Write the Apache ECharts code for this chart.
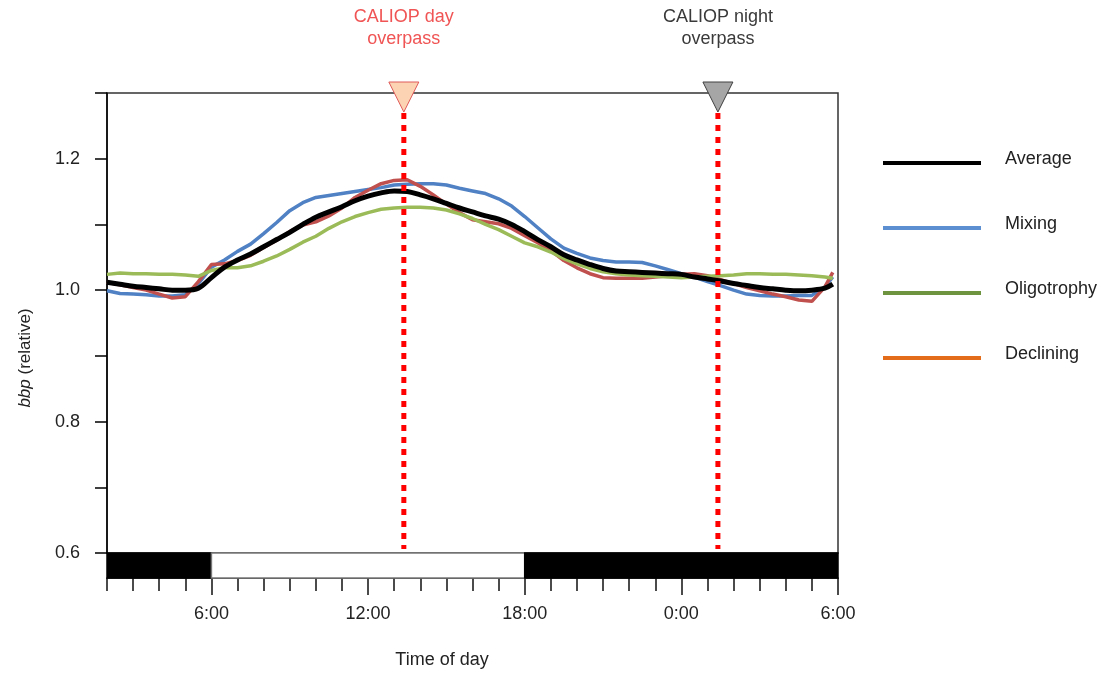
<!DOCTYPE html>
<html><head><meta charset="utf-8">
<script src="https://cdn.jsdelivr.net/npm/echarts@6/dist/echarts.min.js"></script>
<style>html,body{margin:0;padding:0;background:#fff}#c{width:1110px;height:676px}</style>
</head><body><div id="c"></div>
<script>
// ---- data ----
const hours = [2,2.5,3,3.5,4,4.5,5,5.5,6,6.5,7,7.5,8,8.5,9,9.5,10,10.5,11,11.5,12,12.5,13,13.5,14,14.5,15,15.5,16,16.5,17,17.5,18,18.5,19,19.5,20,20.5,21,21.5,22,22.5,23,23.5,24,24.5,25,25.5,26,26.5,27,27.5,28,28.5,29,29.5,29.8];
const average = [1.012,1.009,1.006,1.004,1.002,1.000,1.000,1.003,1.019,1.035,1.046,1.055,1.066,1.077,1.088,1.100,1.111,1.119,1.127,1.136,1.143,1.148,1.151,1.150,1.145,1.139,1.132,1.125,1.119,1.113,1.108,1.100,1.089,1.077,1.066,1.054,1.046,1.039,1.033,1.029,1.028,1.027,1.026,1.025,1.024,1.020,1.017,1.014,1.010,1.007,1.004,1.002,1.000,0.999,1.000,1.003,1.009];
const mixing = [0.999,0.995,0.994,0.993,0.991,0.991,0.993,1.010,1.035,1.046,1.059,1.070,1.086,1.103,1.121,1.133,1.141,1.144,1.147,1.150,1.153,1.156,1.160,1.161,1.162,1.162,1.160,1.155,1.151,1.147,1.139,1.128,1.112,1.095,1.078,1.064,1.056,1.049,1.045,1.043,1.043,1.042,1.037,1.031,1.025,1.020,1.013,1.007,1.000,0.994,0.992,0.991,0.991,0.992,0.992,1.005,1.020];
const oligotrophy = [1.024,1.026,1.025,1.025,1.024,1.024,1.023,1.021,1.030,1.034,1.034,1.037,1.044,1.052,1.062,1.073,1.082,1.094,1.104,1.112,1.118,1.123,1.125,1.126,1.126,1.125,1.122,1.116,1.109,1.100,1.092,1.082,1.072,1.066,1.058,1.048,1.040,1.033,1.028,1.025,1.023,1.022,1.021,1.020,1.019,1.020,1.021,1.022,1.023,1.025,1.025,1.024,1.024,1.023,1.022,1.020,1.018];
const declining = [1.012,1.008,1.004,1.000,0.994,0.988,0.990,1.013,1.039,1.040,1.045,1.053,1.065,1.076,1.089,1.099,1.104,1.113,1.125,1.141,1.152,1.162,1.167,1.168,1.158,1.145,1.131,1.118,1.107,1.104,1.101,1.094,1.083,1.072,1.060,1.045,1.034,1.025,1.019,1.018,1.018,1.018,1.020,1.022,1.024,1.025,1.022,1.016,1.010,1.004,0.999,0.994,0.990,0.985,0.983,1.005,1.027];
const seriesNames = ['Average','Mixing','Oligotrophy','Declining'];
const xTickHours = [6,12,18,24,30];
const xTickLabels = ['6:00','12:00','18:00','0:00','6:00'];
const yLabelValues = [0.6,0.8,1.0,1.2];
const daySpans = [[2,6,0],[6,18,1],[18,30,0]];
const overpassHours = [13.37,25.4];
const overpassLabels = ['CALIOP day\noverpass','CALIOP night\noverpass'];

// ---- styles ----
const FF = '"Liberation Sans", Arial, sans-serif';
const lineColors = {Average:'#000000', Mixing:'#4f81c4', Oligotrophy:'#9bbb59', Declining:'#c0504d'};
const legendColors = {Average:'#000000', Mixing:'#5b8fd2', Oligotrophy:'#6f9440', Declining:'#e36c1b'};
const lineWidths = {Average:5, Mixing:3.5, Oligotrophy:3.5, Declining:3.5};
const dataMap = {Average:average, Mixing:mixing, Oligotrophy:oligotrophy, Declining:declining};

const chart = echarts.init(document.getElementById('c'), null, {renderer:'canvas'});

const drawOrder = ['Mixing','Declining','Oligotrophy','Average'];
const lineSeries = drawOrder.map((n, k) => ({
  name: n, type: 'line', xAxisIndex: 0, yAxisIndex: 0,
  data: hours.map((h, i) => [h, dataMap[n][i]]),
  showSymbol: false, symbol: 'none',
  smooth: n === 'Average' ? 0.35 : false,
  lineStyle: {color: lineColors[n], width: lineWidths[n]},
  itemStyle: {color: lineColors[n]},
  z: 3 + k, animation: false
}));

const option = {
  animation: false,
  backgroundColor: '#fff',
  textStyle: {fontFamily: FF},
  grid: [
    {left: 107, width: 731, top: 93, height: 460, show: true, borderColor: '#333', borderWidth: 1.5, backgroundColor: 'transparent'},
    {left: 107, width: 731, top: 553, height: 25}
  ],
  xAxis: [
    {gridIndex: 0, type: 'value', min: 2, max: 30, interval: 1, show: false},
    {gridIndex: 1, type: 'value', min: 2, max: 30, interval: 1, position: 'bottom',
      axisLine: {show: true, lineStyle: {color: '#000', width: 1.5}},
      axisTick: {show: true, length: 13, lineStyle: {color: '#111', width: 1.5}},
      axisLabel: {show: false}, splitLine: {show: false}},
    {gridIndex: 1, type: 'value', min: 2, max: 30, position: 'bottom',
      axisLine: {show: false},
      axisTick: {show: true, length: 17, customValues: xTickHours, lineStyle: {color: '#111', width: 1.5}},
      axisLabel: {show: true, customValues: xTickHours, margin: 27, fontSize: 18, color: '#222', fontFamily: FF,
        formatter: v => { const i = xTickHours.indexOf(Math.round(v)); return i >= 0 ? xTickLabels[i] : ''; }},
      splitLine: {show: false}}
  ],
  yAxis: [
    {gridIndex: 0, type: 'value', min: 0.6, max: 1.3, interval: 0.1,
      axisLine: {show: true, lineStyle: {color: '#000', width: 1.5}},
      axisTick: {show: true, length: 12, lineStyle: {color: '#000', width: 1.5}},
      axisLabel: {margin: 27, fontSize: 18, color: '#222', fontFamily: FF,
        formatter: v => yLabelValues.some(t => Math.abs(t - v) < 1e-6) ? v.toFixed(1) : ''},
      splitLine: {show: false}},
    {gridIndex: 1, type: 'value', min: 0, max: 1, show: false}
  ],
  legend: {
    orient: 'vertical', left: 883, top: 150, padding: 0, icon: 'rect', itemWidth: 98, itemHeight: 4, itemGap: 47,
    textStyle: {fontSize: 18, color: '#222', fontFamily: FF, padding: [0, 0, 0, 19],
      rich: {t: {fontSize: 18, color: '#222', fontFamily: FF, padding: [0, 0, 8, 0]}}},
    formatter: name => '{t|' + name + '}',
    selectedMode: false,
    data: seriesNames.map(n => ({name: n, itemStyle: {color: legendColors[n]}}))
  },
  graphic: [
    {type: 'text', x: 25, y: 358, rotation: Math.PI / 2,
      style: {text: '{i|bbp} (relative)', align: 'center', verticalAlign: 'middle', fontSize: 17, fontFamily: FF, fill: '#222',
        rich: {i: {fontStyle: 'italic', fontSize: 17, fontFamily: FF, fill: '#222'}}}},
    {type: 'text', x: 442, y: 660,
      style: {text: 'Time of day', align: 'center', verticalAlign: 'middle', fontSize: 18, fontFamily: FF, fill: '#222'}}
  ],
  series: [
    {type: 'custom', xAxisIndex: 1, yAxisIndex: 1, data: daySpans, clip: false, silent: true, z: 2,
      renderItem: (params, api) => {
        const a = api.coord([api.value(0), 1]);
        const b = api.coord([api.value(1), 0]);
        const isDay = api.value(2) === 1;
        return {type: 'rect', shape: {x: a[0], y: a[1], width: b[0] - a[0], height: b[1] - a[1]},
          style: {fill: isDay ? '#ffffff' : '#000000', stroke: isDay ? '#777' : '#000', lineWidth: 1.5}};
      }},
    ...lineSeries,
    {type: 'custom', xAxisIndex: 0, yAxisIndex: 0, data: overpassHours.map((h, i) => [h, i]), clip: false, silent: true, z: 20,
      renderItem: (params, api) => {
        const i = api.value(1);
        const top = api.coord([api.value(0), 1.3]);
        const bot = api.coord([api.value(0), 0.6]);
        const isDay = i === 0;
        return {type: 'group', children: [
          {type: 'line', shape: {x1: top[0], y1: top[1] + 20, x2: top[0], y2: bot[1] - 4},
            style: {stroke: '#ff0000', lineWidth: 5, lineDash: [6, 6]}},
          {type: 'polygon', shape: {points: [[top[0] - 15, top[1] - 11], [top[0] + 15, top[1] - 11], [top[0], top[1] + 19]]},
            style: {fill: isDay ? '#fcd3b3' : '#a6a6a6', stroke: isDay ? '#e05a5a' : '#404040', lineWidth: 1}},
          {type: 'text', x: top[0], y: top[1] - 65,
            style: {text: overpassLabels[i], align: 'center', verticalAlign: 'middle', fontSize: 18, lineHeight: 22,
              fontFamily: FF, fill: isDay ? '#f05454' : '#3a3a3a'}}
        ]};
      }}
  ]
};
chart.setOption(option);
</script>
</body></html>
